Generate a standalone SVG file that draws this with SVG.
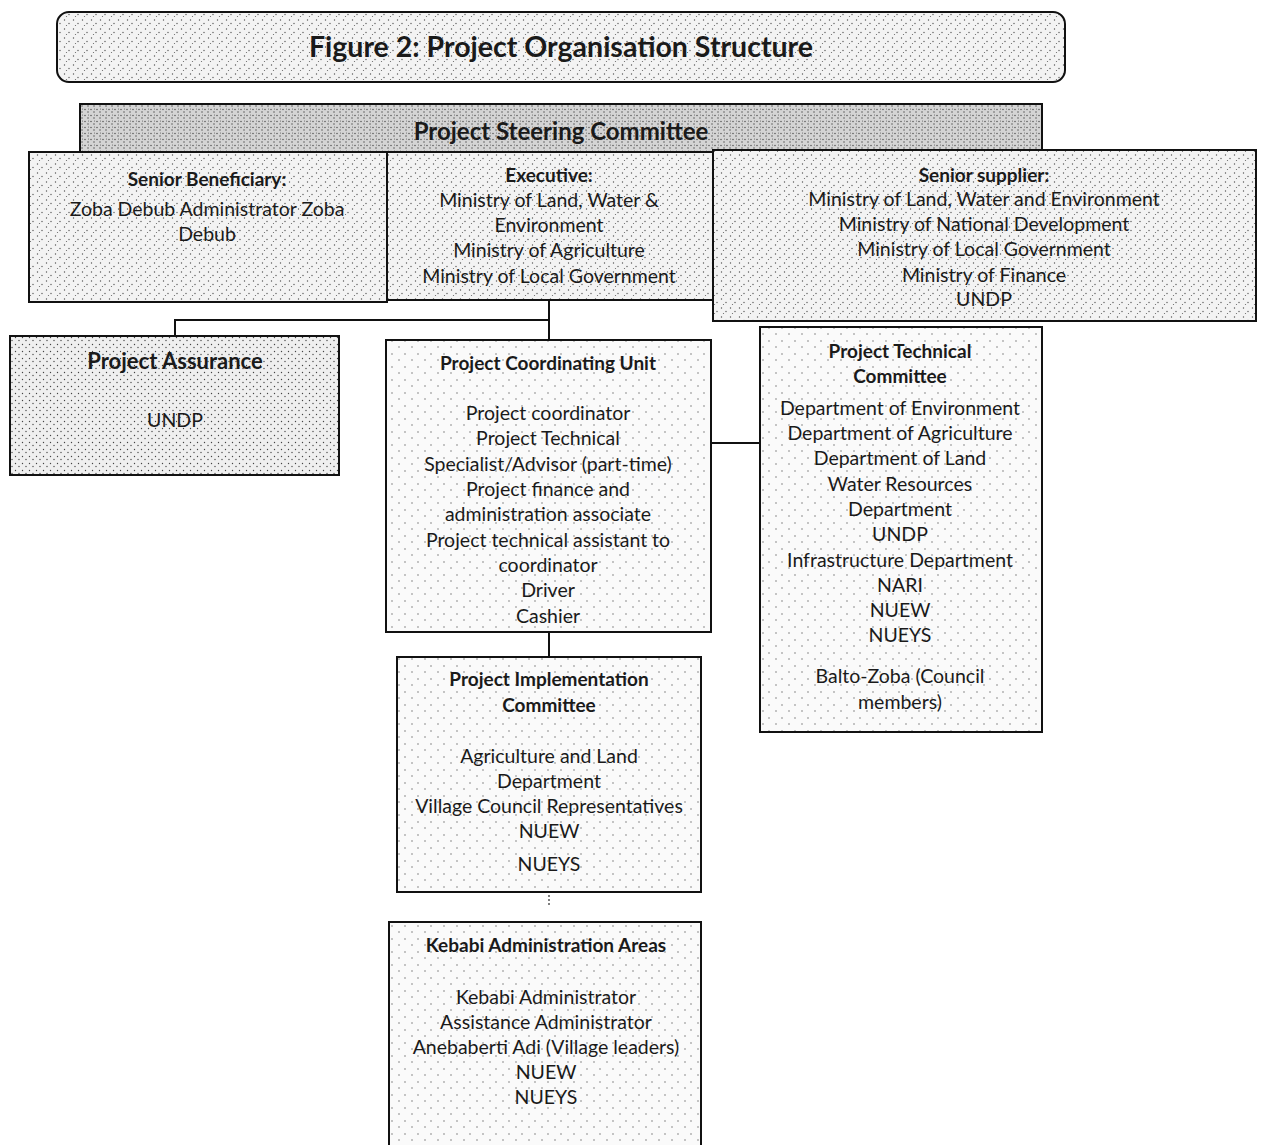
<svg xmlns="http://www.w3.org/2000/svg" width="1262" height="1145" viewBox="0 0 1262 1145">
<style>
  .box { stroke: #111; stroke-width: 2; }
  .t { font-family: Lato, "Open Sans", sans-serif; font-size: 19.5px; fill: #1a1a1a; text-anchor: middle; }
  .b { font-weight: bold; font-size: 19px; }
  .ln { stroke: #111; stroke-width: 2; fill: none; }
</style>
<defs>
  <pattern id="light" width="9" height="9" patternUnits="userSpaceOnUse">
    <rect width="9" height="9" fill="#f3f3f3"/>
    <circle cx="1.5" cy="2" r="0.7" fill="#555"/>
    <circle cx="6" cy="5.5" r="0.7" fill="#555"/>
    <circle cx="3.5" cy="7.5" r="0.6" fill="#666"/>
  </pattern>
  <pattern id="sparse" width="13" height="13" patternUnits="userSpaceOnUse">
    <rect width="13" height="13" fill="#fafafa"/>
    <circle cx="2" cy="3" r="0.7" fill="#666"/>
    <circle cx="9" cy="9" r="0.7" fill="#666"/>
  </pattern>
  <pattern id="dense" width="6" height="6" patternUnits="userSpaceOnUse">
    <rect width="6" height="6" fill="#d4d4d4"/>
    <circle cx="1" cy="1.5" r="0.7" fill="#444"/>
    <circle cx="4" cy="4" r="0.7" fill="#444"/>
    <circle cx="4.5" cy="1" r="0.5" fill="#555"/>
  </pattern>
  <pattern id="medium" width="7" height="7" patternUnits="userSpaceOnUse">
    <rect width="7" height="7" fill="#efefef"/>
    <circle cx="1.5" cy="1.5" r="0.7" fill="#444"/>
    <circle cx="5" cy="4.5" r="0.7" fill="#444"/>
  </pattern>
</defs>
<rect width="1262" height="1145" fill="#ffffff"/>

<g id="title">
  <rect class="box" x="57" y="12" width="1008" height="70" rx="12" fill="url(#light)"/>
  <text class="t b" x="561" y="57" style="font-size:28.5px">Figure 2: Project Organisation Structure</text>
</g>

<g id="steering-committee">
  <rect class="box" x="80" y="104" width="962" height="48" fill="url(#dense)"/>
  <text class="t b" x="561" y="140" style="font-size:24px">Project Steering Committee</text>
</g>

<g id="senior-beneficiary">
  <rect class="box" x="29" y="152" width="358" height="150" fill="url(#light)"/>
  <text class="t b" x="207" y="186">Senior Beneficiary:</text>
  <text class="t" x="207" y="216">Zoba Debub Administrator Zoba</text>
  <text class="t" x="207" y="241">Debub</text>
</g>

<g id="executive">
  <rect class="box" x="387" y="152" width="326" height="148" fill="url(#light)"/>
  <text class="t b" x="549" y="182">Executive:</text>
  <text class="t" x="549" y="207">Ministry of Land, Water &amp;</text>
  <text class="t" x="549" y="232">Environment</text>
  <text class="t" x="549" y="257">Ministry of Agriculture</text>
  <text class="t" x="549" y="283">Ministry of Local Government</text>
</g>

<g id="senior-supplier">
  <rect class="box" x="713" y="150" width="543" height="171" fill="url(#light)"/>
  <text class="t b" x="984" y="182">Senior supplier:</text>
  <text class="t" x="984" y="206">Ministry of Land, Water and Environment</text>
  <text class="t" x="984" y="231">Ministry of National Development</text>
  <text class="t" x="984" y="256">Ministry of Local Government</text>
  <text class="t" x="984" y="282">Ministry of Finance</text>
  <text class="t" x="984" y="306">UNDP</text>
</g>

<g id="connectors">
  <path class="ln" d="M549,300 V340"/>
  <path class="ln" d="M549,320 H175 V336"/>
  <path class="ln" d="M690,443 H760"/>
  <path class="ln" d="M549,632 V657"/>
  <path d="M549,895 V907" stroke="#555" stroke-width="1.5" stroke-dasharray="2,2"/>
</g>

<g id="project-assurance">
  <rect class="box" x="10" y="336" width="329" height="139" fill="url(#medium)"/>
  <text class="t b" x="175" y="369" style="font-size:22px">Project Assurance</text>
  <text class="t" x="175" y="427">UNDP</text>
</g>

<g id="pcu">
  <rect class="box" x="386" y="340" width="325" height="292" fill="url(#sparse)"/>
  <text class="t b" x="548" y="370">Project Coordinating Unit</text>
  <text class="t" x="548" y="420">Project coordinator</text>
  <text class="t" x="548" y="445">Project Technical</text>
  <text class="t" x="548" y="471">Specialist/Advisor (part-time)</text>
  <text class="t" x="548" y="496">Project finance and</text>
  <text class="t" x="548" y="521">administration associate</text>
  <text class="t" x="548" y="547">Project technical assistant to</text>
  <text class="t" x="548" y="572">coordinator</text>
  <text class="t" x="548" y="597">Driver</text>
  <text class="t" x="548" y="623">Cashier</text>
</g>

<g id="ptc">
  <rect class="box" x="760" y="327" width="282" height="405" fill="url(#sparse)"/>
  <text class="t b" x="900" y="358">Project Technical</text>
  <text class="t b" x="900" y="383">Committee</text>
  <text class="t" x="900" y="415">Department of Environment</text>
  <text class="t" x="900" y="440">Department of Agriculture</text>
  <text class="t" x="900" y="465">Department of Land</text>
  <text class="t" x="900" y="491">Water Resources</text>
  <text class="t" x="900" y="516">Department</text>
  <text class="t" x="900" y="541">UNDP</text>
  <text class="t" x="900" y="567">Infrastructure Department</text>
  <text class="t" x="900" y="592">NARI</text>
  <text class="t" x="900" y="617">NUEW</text>
  <text class="t" x="900" y="642">NUEYS</text>
  <text class="t" x="900" y="683">Balto-Zoba (Council</text>
  <text class="t" x="900" y="709">members)</text>
</g>

<g id="pic">
  <rect class="box" x="397" y="657" width="304" height="235" fill="url(#sparse)"/>
  <text class="t b" x="549" y="686">Project Implementation</text>
  <text class="t b" x="549" y="712">Committee</text>
  <text class="t" x="549" y="763">Agriculture and Land</text>
  <text class="t" x="549" y="788">Department</text>
  <text class="t" x="549" y="813">Village Council Representatives</text>
  <text class="t" x="549" y="838">NUEW</text>
  <text class="t" x="549" y="871">NUEYS</text>
</g>

<g id="kebabi">
  <rect class="box" x="389" y="922" width="312" height="240" fill="url(#sparse)"/>
  <text class="t b" x="546" y="952">Kebabi Administration Areas</text>
  <text class="t" x="546" y="1004">Kebabi Administrator</text>
  <text class="t" x="546" y="1029">Assistance Administrator</text>
  <text class="t" x="546" y="1054">Anebaberti Adi (Village leaders)</text>
  <text class="t" x="546" y="1079">NUEW</text>
  <text class="t" x="546" y="1104">NUEYS</text>
</g>
</svg>
